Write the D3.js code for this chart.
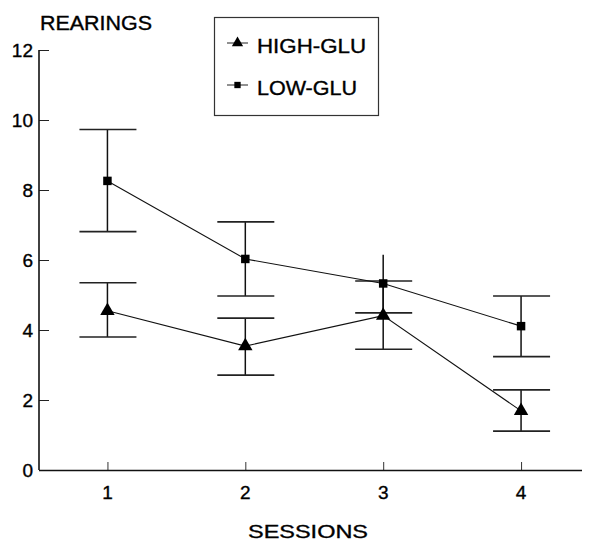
<!DOCTYPE html>
<html><head><meta charset="utf-8">
<script src="https://cdn.jsdelivr.net/npm/d3@7"></script>
<style>body{margin:0;background:#fff}svg{display:block}text{font-family:"Liberation Sans",Arial,sans-serif;fill:#000;stroke:#000;stroke-width:0.35px}</style>
</head><body><svg id="c" width="589" height="542"></svg>
<script>
const sessions = [1, 2, 3, 4];
const yTicks = [0, 2, 4, 6, 8, 10, 12];
const highMean = [4.55, 3.54, 4.41, 1.69];
const highLo   = [3.80, 2.71, 3.45, 1.11];
const highHi   = [5.35, 4.34, 5.40, 2.29];
const lowMean  = [8.26, 6.03, 5.33, 4.11];
const lowLo    = [6.81, 4.97, 4.49, 3.24];
const lowHi    = [9.73, 7.09, 6.15, 4.97];
const lowTopCap = [true, true, false, true];
const highTopCap = [true, true, true, true];

const svg = d3.select("#c");
const x = d3.scaleLinear().domain([0.5, 4.5]).range([38.5, 590]);
const y = d3.scaleLinear().domain([0, 12]).range([470, 50]);

// axes
const yAx = svg.append("g").attr("transform", "translate(39,0)")
  .call(d3.axisRight(y).tickValues(yTicks).tickSize(10).tickFormat(""));
yAx.select(".domain").remove();
yAx.selectAll("line").attr("stroke", "#222").attr("stroke-width", 1);
svg.append("line").attr("x1", 39).attr("x2", 39).attr("y1", y(12)).attr("y2", y(0))
  .attr("stroke", "#111").attr("stroke-width", 1.6);
svg.selectAll(".ylab").data(yTicks).join("text").attr("class", "ylab")
  .attr("x", 33).attr("y", d => y(d) + 7).attr("text-anchor", "end")
  .attr("font-size", 19).text(d => d);

const xAx = svg.append("g").attr("transform", "translate(0,470)")
  .call(d3.axisTop(x).tickValues(sessions).tickSize(8).tickFormat(""));
xAx.select(".domain").remove();
xAx.selectAll("line").attr("stroke", "#333").attr("stroke-width", 1);
svg.append("line").attr("x1", 39).attr("x2", 582).attr("y1", 470.5).attr("y2", 470.5)
  .attr("stroke", "#111").attr("stroke-width", 1.6);
svg.selectAll(".xlab").data(sessions).join("text").attr("class", "xlab")
  .attr("x", d => x(d)).attr("y", 499).attr("text-anchor", "middle")
  .attr("font-size", 19).text(d => d);

svg.append("text").attr("x", 40).attr("y", 30).attr("font-size", 19.5)
  .attr("textLength", 112).attr("lengthAdjust", "spacingAndGlyphs").text("REARINGS");
svg.append("text").attr("x", 248).attr("y", 538).attr("font-size", 19)
  .attr("textLength", 120).attr("lengthAdjust", "spacingAndGlyphs").text("SESSIONS");

// error bars
function errBars(lo, hi, topCap) {
  const g = svg.append("g");
  g.selectAll(".v").data(sessions).join("line")
    .attr("x1", d => x(d)).attr("x2", d => x(d))
    .attr("y1", (d, i) => y(lo[i])).attr("y2", (d, i) => y(hi[i]))
    .attr("stroke", "#111").attr("stroke-width", 1.5);
  g.selectAll(".cl").data(sessions).join("line")
    .attr("x1", d => x(d) - 28).attr("x2", d => x(d) + 29)
    .attr("y1", (d, i) => y(lo[i])).attr("y2", (d, i) => y(lo[i]))
    .attr("stroke", "#222").attr("stroke-width", 1.6);
  g.selectAll(".ch").data(sessions.filter((d, i) => topCap[i])).join("line")
    .attr("x1", d => x(d) - 28).attr("x2", d => x(d) + 29)
    .attr("y1", d => y(hi[d - 1])).attr("y2", d => y(hi[d - 1]))
    .attr("stroke", "#222").attr("stroke-width", 1.6);
}
errBars(lowLo, lowHi, lowTopCap);
errBars(highLo, highHi, highTopCap);

const line = d3.line().x(d => x(d[0])).y(d => y(d[1]));
svg.append("path").attr("d", line(sessions.map((s, i) => [s, lowMean[i]])))
  .attr("fill", "none").attr("stroke", "#111").attr("stroke-width", 1.1);
svg.append("path").attr("d", line(sessions.map((s, i) => [s, highMean[i]])))
  .attr("fill", "none").attr("stroke", "#111").attr("stroke-width", 1.1);

const tri = d3.symbol().type(d3.symbolTriangle).size(90);
const sq = d3.symbol().type(d3.symbolSquare).size(72);
svg.selectAll(".tri").data(sessions).join("path").attr("class", "tri")
  .attr("d", tri).attr("fill", "#000")
  .attr("transform", (d, i) => `translate(${x(d)},${y(highMean[i])})`);
svg.selectAll(".sq").data(sessions).join("path").attr("class", "sq")
  .attr("d", sq).attr("fill", "#000")
  .attr("transform", (d, i) => `translate(${x(d)},${y(lowMean[i])})`);

// legend
const lg = svg.append("g");
lg.append("rect").attr("x", 214.5).attr("y", 17.5).attr("width", 164).attr("height", 98)
  .attr("fill", "#fff").attr("stroke", "#333").attr("stroke-width", 1.2);
const legItems = [
  {label: "HIGH-GLU", sym: d3.symbol().type(d3.symbolTriangle).size(55), y: 43, w: 109},
  {label: "LOW-GLU", sym: d3.symbol().type(d3.symbolSquare).size(40), y: 85, w: 100}
];
legItems.forEach(it => {
  lg.append("line").attr("x1", 227).attr("x2", 248).attr("y1", it.y).attr("y2", it.y)
    .attr("stroke", "#222").attr("stroke-width", 1);
  lg.append("path").attr("d", it.sym).attr("fill", "#000")
    .attr("transform", `translate(237.5,${it.y})`);
  lg.append("text").attr("x", 257).attr("y", it.y + 10).attr("font-size", 19.5)
    .attr("textLength", it.w).attr("lengthAdjust", "spacingAndGlyphs").text(it.label);
});
</script></body></html>
